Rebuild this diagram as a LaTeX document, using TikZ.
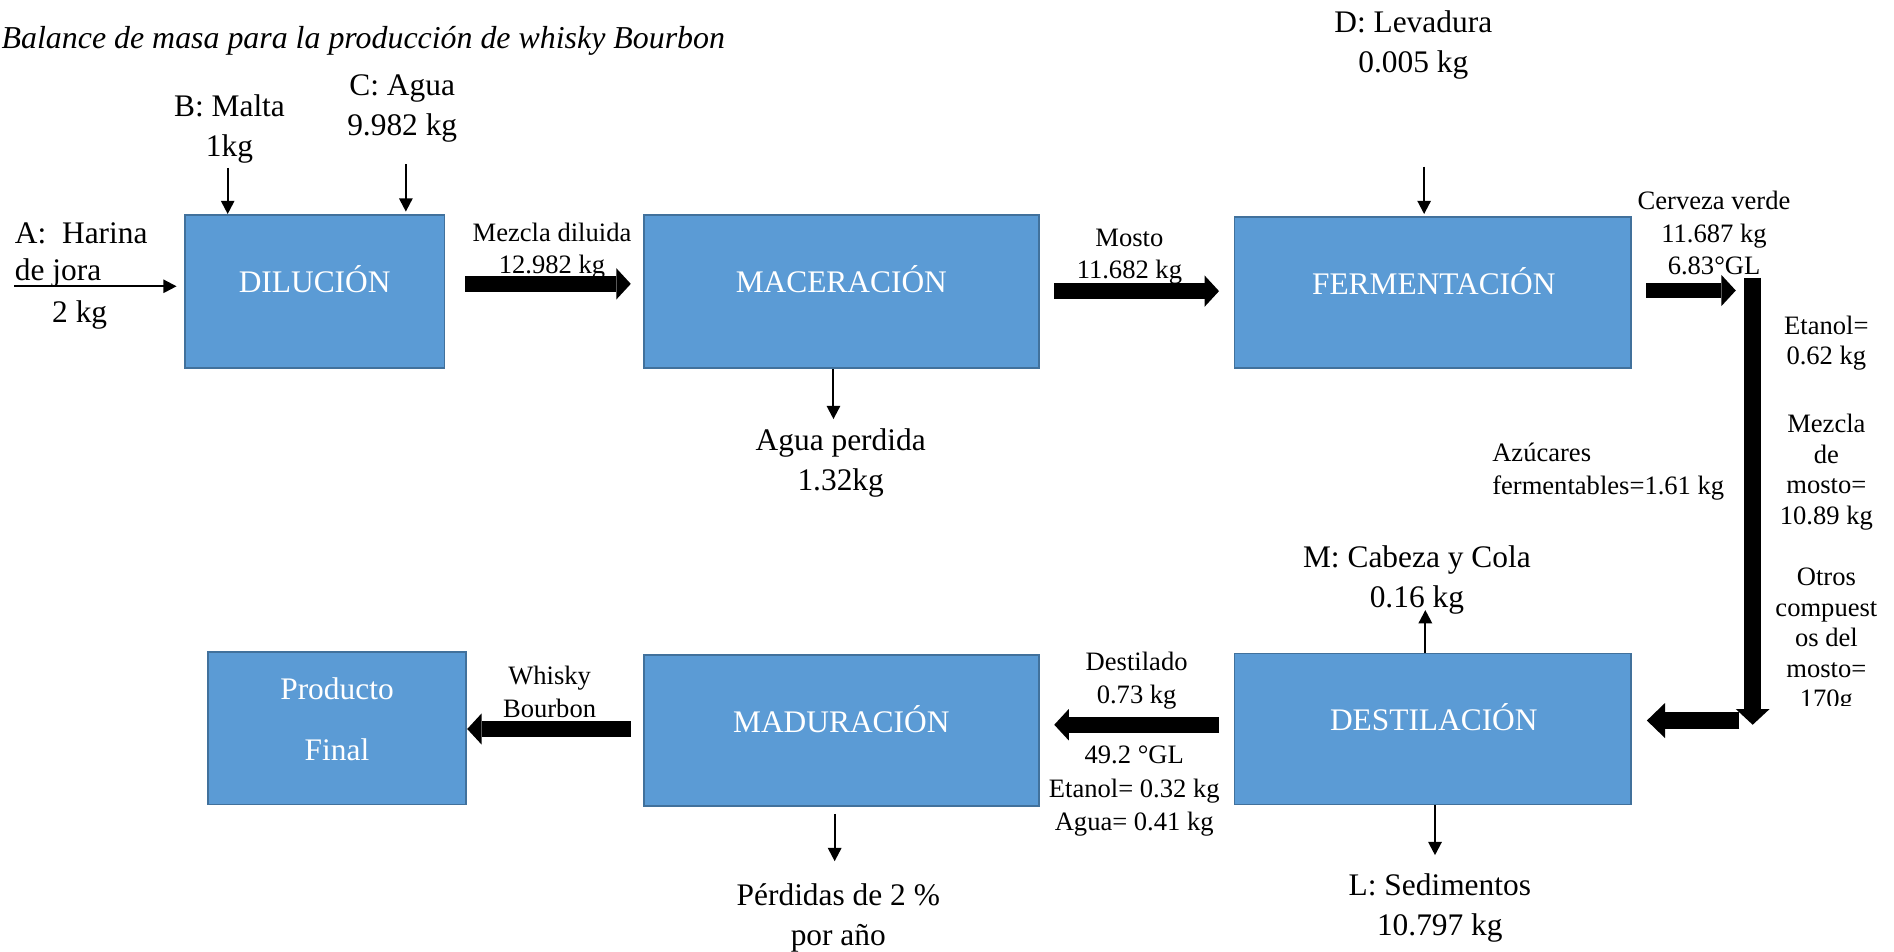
\documentclass[tikz,border=0pt]{standalone}
\usepackage{fontspec}
\setmainfont{Liberation Serif}
\usetikzlibrary{arrows.meta}
\definecolor{boxfill}{HTML}{5B9BD5}
\definecolor{boxline}{HTML}{41719C}
\begin{document}
\begin{tikzpicture}[x=0.5pt,y=-0.5pt,
  proc/.style={draw=boxline, fill=boxfill, line width=0.8pt, inner sep=0pt},
  proctext/.style={text=white, font=\fontsize{13}{16.5}\selectfont, anchor=base, inner sep=0pt},
  big/.style={font=\fontsize{13}{16.5}\selectfont, align=center, inner sep=0pt},
  small/.style={font=\fontsize{11}{13.5}\selectfont, align=center, inner sep=0pt},
  rcol/.style={font=\fontsize{11}{12.65}\selectfont, align=center, inner sep=0pt},
  thinarr/.style={line width=0.85pt, -{Triangle[length=5.5pt,width=5.5pt]}},
  blockarr/.style={line width=6.5pt, -{Triangle[length=6pt,width=13pt,line width=0pt]}},
]
\useasboundingbox (0,0) rectangle (1568,788);

% boxes
\node[proc, minimum width=107.5pt, minimum height=63.5pt] (dil) at (260.5,241.5) {};
\node[proc, minimum width=163.5pt, minimum height=63.5pt] (mac) at (696.5,241.5) {};
\node[proc, minimum width=164pt, minimum height=62.5pt] (fer) at (1186,242.5) {};
\node[proc, minimum width=164pt, minimum height=62.5pt] (des) at (1186,603.5) {};
\node[proc, minimum width=163.5pt, minimum height=62.5pt] (mad) at (696.5,604.5) {};
\node[proc, minimum width=107pt, minimum height=63pt] (pro) at (279,603) {};

\node[proctext] (dilT) at (260.5,242.5) {DILUCIÓN};
\node[proctext] (macT) at (696.5,242.5) {MACERACIÓN};
\node[proctext] (ferT) at (1187,243.5) {FERMENTACIÓN};
\node[proctext] (desT) at (1187,604.5) {DESTILACIÓN};
\node[proctext] (madT) at (696.5,606.5) {MADURACIÓN};
\node[text=white, font=\fontsize{13}{25.5}\selectfont, align=center, inner sep=0pt] (proT) at (279,595.5) {Producto\\Final};

% title
\node[anchor=west, inner sep=0pt, font=\fontsize{13.2}{16}\selectfont\itshape] (title) at (1,34) {Balance de masa para la producción de whisky Bourbon};

% labels
\node[big, anchor=west] (aH) at (12,193) {A:\ \ Harina};
\node[big, anchor=west] (aJ) at (12,226) {de jora};
\node[big] (aK) at (66,260.5) {2 kg};
\node[big] (bL) at (190,106.5) {B: Malta\\1kg};
\node[big] (cL) at (333,90) {C: Agua\\9.982 kg};
\node[small] (mzL) at (457,208) {Mezcla diluida\\12.982 kg};
\node[small] (moL) at (935,212.5) {Mosto\\11.682 kg};
\node[big] (dL) at (1170,37.5) {D: Levadura\\0.005 kg};
\node[small] (cvL) at (1419,193) {Cerveza verde\\11.687 kg\\6.83°GL};
\node[rcol] (etL) at (1512,284) {Etanol=\\0.62 kg};
\node[rcol] (mmL) at (1512,391) {Mezcla\\de\\mosto=\\10.89 kg};
\begin{scope}
\clip (1455,455) rectangle (1568,584);
\node[rcol] (otL) at (1512,530.5) {Otros\\compuest\\os del\\mosto=\\170g};
\end{scope}
\node[small, anchor=west, align=left] (azL) at (1235,390.5) {Azúcares\\fermentables=1.61 kg};
\node[big] (apL) at (696,383.5) {Agua perdida\\1.32kg};
\node[big] (mcL) at (1173,480.5) {M: Cabeza y Cola\\0.16 kg};
\node[big] (lsL) at (1192,751.5) {L: Sedimentos\\10.797 kg};
\node[big] (pdL) at (694,760) {Pérdidas de 2 \%\\por año};
\node[small] (dsL) at (941,563.5) {Destilado\\0.73 kg};
\node[small, font=\fontsize{11}{14}\selectfont] (glL) at (939,655) {49.2 °GL\\Etanol= 0.32 kg\\Agua= 0.41 kg};
\node[small] (wbL) at (455,573) {Whisky\\Bourbon};

% thin arrows
\coordinate (aS) at (12,237);
\draw[thinarr, shorten >=3pt] (aS) -- (aS -| dil.west);
\coordinate (bS) at (188.5,139);
\draw[thinarr] (bS) -- (bS |- dil.north);
\coordinate (cS) at (336,136);
\draw[thinarr, shorten >=1pt] (cS) -- (cS |- dil.north);
\coordinate (dS) at (1179,138);
\draw[thinarr, shorten >=1pt] (dS) -- (dS |- fer.north);
\coordinate (agE) at (690,347);
\draw[thinarr] (agE |- mac.south) -- (agE);
\coordinate (mE) at (1180,505);
\draw[thinarr] (mE |- des.north) -- (mE);
\coordinate (lE) at (1188,708);
\draw[thinarr] (lE |- des.south) -- (lE);
\coordinate (pE) at (691,713);
\draw[thinarr, shorten <=3pt] (pE |- mad.south) -- (pE);

% block arrows
\coordinate (y1) at (0,235);
\draw[blockarr, shorten <=8.25pt, shorten >=5pt] (dil.east |- y1) -- (mac.west |- y1);
\coordinate (y2) at (0,241);
\draw[blockarr, shorten <=6pt, shorten >=6pt] (mac.east |- y2) -- (fer.west |- y2);
\coordinate (y3) at (0,240.5);
\coordinate (barT) at (1451,230);
\coordinate (barB) at (1451,600);
\draw[blockarr, shorten <=6pt, shorten >=7pt] (fer.east |- y3) -- (barT |- y3);
\draw[blockarr, line width=7pt, -{Triangle[length=6.5pt,width=14pt,line width=0pt]}] (barT) -- (barB);
\coordinate (lS) at (1440,596.5);
\draw[blockarr, line width=7pt, -{Triangle[length=7.5pt,width=14.5pt,line width=0pt]}, shorten >=6.3pt] (lS) -- (lS -| des.east);
\coordinate (y6) at (0,600);
\draw[blockarr, shorten <=6pt, shorten >=6pt] (des.west |- y6) -- (mad.east |- y6);
\coordinate (y7) at (0,603.5);
\draw[blockarr, line width=7pt, shorten <=5pt] (mad.west |- y7) -- (pro.east |- y7);
\end{tikzpicture}
\end{document}
